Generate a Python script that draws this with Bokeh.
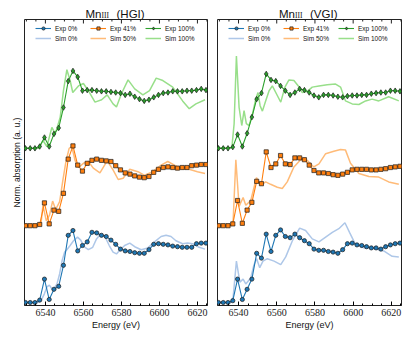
from bokeh.plotting import figure
from bokeh.models import Range1d, Legend, LegendItem, FixedTicker, Title
from bokeh.layouts import row, column
from bokeh.core.properties import value
from bokeh.embed import file_html
from bokeh.resources import INLINE

# ---------------- data ----------------
EXP_E = [6529.5, 6532.0, 6534.5, 6537.0, 6539.5, 6542.0, 6544.5, 6547.0, 6549.5,
         6552.0, 6554.5, 6557.0, 6559.5, 6562.0, 6564.5, 6567.0, 6569.5, 6572.0,
         6574.5, 6577.0, 6579.5, 6582.0, 6584.5, 6587.0, 6589.5, 6592.0, 6594.5,
         6597.0, 6599.5, 6602.0, 6604.5, 6607.0, 6609.5, 6612.0, 6614.5, 6617.0,
         6619.5, 6622.0, 6624.5]

HGI_EXP_0 = [0, 0, 0, 0.04, 0.39, 0.05, 0.22, 0.27, 0.62, 1.12, 1.2, 0.86, 0.95,
             1.01, 1.17, 1.16, 1.12, 1.1, 1.04, 0.97, 0.89, 0.86, 0.85, 0.83, 0.82,
             0.82, 0.88, 0.97, 0.98, 0.97, 0.96, 0.94, 0.93, 0.92, 0.92, 0.92, 0.98,
             0.99, 0.99]
HGI_EXP_41 = [0, 0, 0, 0.02, 0.38, 0.03, 0.26, 0.24, 0.54, 1.11, 1.33, 1.01, 0.91,
              1.04, 1.09, 1.11, 1.09, 1.08, 1.07, 1.0, 0.93, 0.88, 0.86, 0.83, 0.81,
              0.8, 0.82, 0.89, 0.94, 0.97, 0.98, 0.97, 0.96, 0.97, 0.97, 1.0, 1.01,
              1.02, 1.02]
HGI_EXP_100 = [0, 0, 0, 0.03, 0.18, 0.03, 0.24, 0.34, 0.68, 1.12, 1.29, 1.19, 0.96,
               0.97, 0.97, 0.96, 0.95, 0.95, 0.94, 0.93, 0.92, 0.89, 0.91, 0.86, 0.82,
               0.79, 0.81, 0.85, 0.89, 0.92, 0.93, 0.95, 0.95, 0.95, 0.96, 0.96, 0.97,
               0.99, 0.97]

VGI_EXP_0 = [0, 0, 0, 0.03, 0.39, 0.05, 0.22, 0.39, 0.82, 0.74, 1.14, 0.85, 1.12,
             1.21, 1.1, 1.08, 1.14, 1.08, 1.03, 0.98, 0.89, 0.87, 0.87, 0.85, 0.84,
             0.82, 0.88, 0.98, 0.99, 0.96, 0.95, 0.93, 0.91, 0.91, 0.89, 0.93, 0.96,
             0.98, 0.99]
VGI_EXP_41 = [0, 0, 0, 0.03, 0.42, 0.04, 0.26, 0.39, 0.74, 0.7, 1.23, 0.97, 1.03,
              1.17, 1.03, 1.02, 1.13, 1.13, 1.1, 1.01, 0.92, 0.88, 0.88, 0.87, 0.85,
              0.84, 0.86, 0.89, 0.93, 0.94, 0.94, 0.94, 0.93, 0.93, 0.94, 0.95, 0.97,
              0.98, 0.99]
VGI_EXP_100 = [0, 0, 0, 0.02, 0.23, 0.03, 0.25, 0.52, 0.82, 0.92, 1.24, 1.14, 1.12,
               1.04, 0.96, 0.89, 0.93, 0.99, 0.97, 0.93, 0.88, 0.85, 0.89, 0.89, 0.88,
               0.86, 0.85, 0.87, 0.88, 0.88, 0.89, 0.89, 0.91, 0.92, 0.93, 0.93, 0.96,
               0.96, 0.95]

HGI_SIM_0_E = [6529.0, 6535.6, 6537.7, 6539.4, 6540.8, 6542.1, 6543.4, 6544.7, 6546.1,
               6547.5, 6548.8, 6550.1, 6551.3, 6553.0, 6554.8, 6556.9, 6558.6, 6560.3,
               6562.6, 6564.9, 6566.9, 6569.0, 6571.3, 6573.6, 6575.6, 6577.4, 6579.1,
               6581.7, 6584.4, 6587.0, 6590.4, 6593.9, 6597.4, 6600.9, 6603.5, 6606.1,
               6608.7, 6612.2, 6614.8, 6617.4, 6620.9, 6624.0]
HGI_SIM_0 = [0, 0, 0.03, 0.14, 0.26, 0.29, 0.23, 0.24, 0.31, 0.48, 0.7, 0.84, 0.88,
             0.95, 1.03, 1.09, 1.04, 0.93, 0.88, 0.92, 1.06, 1.14, 1.1, 0.95, 0.84,
             0.81, 0.87, 0.95, 0.99, 0.93, 0.88, 0.91, 1.01, 1.1, 1.12, 1.1, 1.03,
             0.98, 0.99, 0.98, 0.92, 0.89]

HGI_SIM_50_E = [6529.0, 6536.5, 6537.7, 6538.7, 6540.5, 6542.2, 6543.8, 6545.4, 6547.5,
                6549.2, 6550.8, 6552.5, 6553.9, 6555.6, 6557.4, 6560.0, 6562.6, 6565.2,
                6568.7, 6572.5, 6575.6, 6578.3, 6580.9, 6584.4, 6588.7, 6592.2, 6596.5,
                6600.9, 6604.4, 6607.9, 6612.2, 6615.6, 6620.0, 6624.0]
HGI_SIM_50 = [0, 0, 0.04, 0.34, 0.08, 0.18, 0.41, 0.27, 0.4, 0.76, 1.07, 1.29, 1.32,
              1.09, 0.97, 1.04, 1.07, 0.96, 0.88, 1.08, 0.93, 0.77, 0.79, 0.94, 0.9,
              0.84, 0.9, 1.01, 1.07, 1.01, 0.94, 0.94, 0.9, 0.87]

HGI_SIM_100_E = [6529.0, 6536.5, 6538.7, 6540.8, 6543.4, 6545.2, 6547.8, 6549.5, 6551.3,
                 6553.0, 6554.4, 6557.4, 6560.0, 6562.6, 6566.1, 6569.6, 6572.5, 6575.6,
                 6577.4, 6580.0, 6583.5, 6587.0, 6591.3, 6594.8, 6598.3, 6601.8, 6607.0,
                 6612.2, 6615.7, 6619.2, 6624.0]
HGI_SIM_100 = [0, 0, 0.13, 0.03, 0.35, 0.24, 0.52, 0.96, 1.31, 1.13, 0.93, 1.04, 1.08,
               0.96, 0.77, 0.81, 0.89, 0.74, 0.69, 0.91, 1.14, 0.99, 0.89, 0.96, 1.17,
               1.13, 1.02, 0.79, 0.66, 0.74, 0.81]

VGI_SIM_0_E = [6529.0, 6536.0, 6537.2, 6538.9, 6540.7, 6542.4, 6543.8, 6546.4, 6548.1,
               6549.5, 6551.1, 6552.8, 6555.1, 6558.6, 6562.1, 6564.7, 6568.2, 6572.0,
               6575.1, 6578.6, 6582.1, 6585.6, 6589.1, 6592.5, 6595.7, 6598.1, 6601.2,
               6605.6, 6610.8, 6616.0, 6620.4, 6623.9]
VGI_SIM_0 = [0, 0, 0.09, 0.69, 0.34, 0.39, 0.31, 0.41, 0.63, 0.73, 0.58, 0.69, 0.73,
             0.69, 0.63, 0.76, 1.03, 1.24, 1.2, 1.06, 1.01, 1.09, 1.17, 1.23, 1.33,
             1.17, 0.97, 0.91, 0.9, 0.86, 0.77, 0.76]

VGI_SIM_50_E = [6529.0, 6536.0, 6537.2, 6538.6, 6540.3, 6542.4, 6543.8, 6546.4, 6549.4,
                6551.6, 6554.2, 6556.8, 6560.3, 6562.9, 6565.5, 6569.0, 6572.5, 6575.9,
                6579.4, 6582.1, 6585.6, 6589.9, 6593.4, 6596.0, 6598.6, 6603.0, 6608.2,
                6613.4, 6618.6, 6623.9]
VGI_SIM_50 = [0, 0, 0.09, 1.1, 0.32, 0.47, 0.34, 0.42, 0.8, 0.67, 0.73, 0.69, 0.64,
              0.62, 0.73, 0.98, 1.1, 1.09, 0.98, 1.03, 1.2, 1.24, 1.27, 1.26, 1.04,
              0.87, 0.82, 0.81, 0.73, 0.69]

VGI_SIM_100_E = [6529.0, 6536.5, 6537.7, 6538.9, 6540.3, 6541.7, 6542.9, 6544.1, 6545.5,
                 6547.3, 6549.0, 6550.2, 6551.3, 6552.5, 6554.2, 6556.0, 6557.7, 6560.3,
                 6562.1, 6564.3, 6566.4, 6569.0, 6571.3, 6573.4, 6576.0, 6578.6, 6582.1,
                 6586.4, 6590.8, 6593.4, 6596.0, 6599.5, 6603.0, 6606.5, 6609.9, 6613.4,
                 6618.6, 6623.9]
VGI_SIM_100 = [0, 0.01, 0.41, 1.54, 0.68, 0.38, 0.63, 0.41, 0.38, 0.57, 0.82, 0.93,
               0.71, 0.62, 0.79, 0.96, 1.04, 0.88, 0.77, 1.02, 1.14, 1.13, 1.04, 0.93,
               0.95, 1.02, 1.04, 1.06, 1.07, 1.02, 0.79, 0.74, 0.73, 0.79, 0.82, 0.79,
               0.86, 0.79]

OFFSETS = [0.0, 1.28, 2.57]
EXP_LABELS = ["Exp 0%", "Exp 41%", "Exp 100%"]
SIM_LABELS = ["Sim 0%", "Sim 50%", "Sim 100%"]
X_TICKS = [6540, 6560, 6580, 6600, 6620]
X_MINOR = [6530, 6535, 6545, 6550, 6555, 6565, 6570, 6575, 6585, 6590, 6595,
           6605, 6610, 6615, 6625]
X_RANGE = (6529.0, 6625.3)
Y_RANGE = (-0.05, 4.717)

EXP_COLORS = ["#1f77b4", "#ff7f0e", "#2ca02c"]
SIM_COLORS = ["#aec7e8", "#ffbb78", "#98df8a"]
MARKERS = ["circle", "square", "diamond"]
MARKER_SIZES = [4.2, 4.2, 5.5]

SANS = "Liberation Sans"
SERIF = "Liberation Serif"
FRAME_H = 286
TITLE_H = 19


def make_title(tag, first, fw):
    t = figure(frame_width=fw, frame_height=TITLE_H, x_range=Range1d(*X_RANGE),
               y_range=Range1d(0, TITLE_H), x_axis_location=None, y_axis_location=None,
               output_backend="svg", toolbar_location=None,
               min_border_left=24 if first else 5, min_border_right=5 if first else 6,
               min_border_top=0, min_border_bottom=0)
    t.outline_line_color = None
    t.grid.visible = False
    xc = (X_RANGE[0] + X_RANGE[1]) / 2
    t.text(x=[xc], y=[6], text=["Mn"], text_align="right", text_baseline="alphabetic",
           x_offset=-14.5, text_font=value(SANS), text_font_size="11.5px",
           text_color="#111111")
    t.text(x=[xc], y=[3.6], text=["III"], text_align="left", text_baseline="alphabetic",
           x_offset=-14.5, text_font=value(SERIF), text_font_size="7.5px",
           text_color="#111111")
    t.text(x=[xc], y=[6], text=["(" + tag + ")"], text_align="left",
           text_baseline="alphabetic", x_offset=0.5, text_font=value(SANS),
           text_font_size="11.5px", text_color="#111111")
    return t


def make_panel(exps, sims, first, fw):
    p = figure(frame_width=fw, frame_height=FRAME_H,
               x_range=Range1d(*X_RANGE), y_range=Range1d(*Y_RANGE),
               y_axis_location=None,
               output_backend="svg", toolbar_location=None,
               min_border_left=24 if first else 5, min_border_right=5 if first else 6,
               min_border_top=0, min_border_bottom=0)
    p.grid.visible = False
    p.outline_line_color = "#222222"
    p.outline_line_width = 1

    xa = p.xaxis[0]
    xa.ticker = FixedTicker(ticks=X_TICKS, minor_ticks=X_MINOR)
    xa.axis_label = "Energy (eV)"
    xa.axis_label_text_font = SANS
    xa.axis_label_text_font_size = "9px"
    xa.axis_label_text_font_style = "normal"
    xa.axis_label_text_color = "#111111"
    xa.axis_label_standoff = 1
    xa.major_label_text_font = SERIF
    xa.major_label_text_font_size = "10px"
    xa.major_label_text_color = "#222222"
    xa.major_label_standoff = 3
    xa.major_tick_in = 4
    xa.major_tick_out = 0
    xa.minor_tick_in = 2
    xa.minor_tick_out = 0
    xa.axis_line_color = "#222222"

    # inward ticks along the top edge of the frame, at the same tick values
    ytop = Y_RANGE[1]
    px = (Y_RANGE[1] - Y_RANGE[0]) / FRAME_H
    p.segment(x0=X_TICKS, y0=[ytop] * len(X_TICKS), x1=X_TICKS,
              y1=[ytop - 4 * px] * len(X_TICKS), line_color="#222222", line_width=1)
    p.segment(x0=X_MINOR, y0=[ytop] * len(X_MINOR), x1=X_MINOR,
              y1=[ytop - 2 * px] * len(X_MINOR), line_color="#222222", line_width=1)

    if first:
        p.add_layout(Title(text="Norm. absorption (a. u.)", align="center",
                           text_font=SANS, text_font_size="8.5px",
                           text_font_style="normal", text_color="#111111",
                           standoff=6), "left")

    items_exp, items_sim = [], []
    for i in range(3):
        sx, sy = sims[i]
        r = p.line(sx, [v + OFFSETS[i] for v in sy], line_color=SIM_COLORS[i],
                   line_width=1.5)
        items_sim.append(LegendItem(label=SIM_LABELS[i], renderers=[r]))
    for i in range(3):
        ys = [v + OFFSETS[i] for v in exps[i]]
        rl = p.line(EXP_E, ys, line_color=EXP_COLORS[i], line_width=1.1)
        rm = p.scatter(EXP_E, ys, marker=MARKERS[i], size=MARKER_SIZES[i],
                       fill_color=EXP_COLORS[i], line_color="#1a1a1a", line_width=0.7)
        items_exp.append(LegendItem(label=EXP_LABELS[i], renderers=[rl, rm]))

    legend = Legend(items=items_exp + items_sim, orientation="horizontal", ncols=3,
                    location=(11, FRAME_H - 22 - 1), label_text_font=SANS,
                    label_text_font_size="6.5px", label_text_color="#111111",
                    glyph_width=16, glyph_height=8, label_height=8, label_width=33,
                    label_standoff=4, spacing=2, padding=2, margin=0,
                    border_line_color=None, background_fill_alpha=0)
    p.add_layout(legend, "center")
    return p


t1 = make_title("HGI", True, 183)
t2 = make_title("VGI", False, 184)
p1 = make_panel([HGI_EXP_0, HGI_EXP_41, HGI_EXP_100],
                [(HGI_SIM_0_E, HGI_SIM_0), (HGI_SIM_50_E, HGI_SIM_50),
                 (HGI_SIM_100_E, HGI_SIM_100)], True, 183)
p2 = make_panel([VGI_EXP_0, VGI_EXP_41, VGI_EXP_100],
                [(VGI_SIM_0_E, VGI_SIM_0), (VGI_SIM_50_E, VGI_SIM_50),
                 (VGI_SIM_100_E, VGI_SIM_100)], False, 184)

layout = column(row(t1, t2), row(p1, p2))
open("out.html", "w").write(file_html(layout, INLINE))
